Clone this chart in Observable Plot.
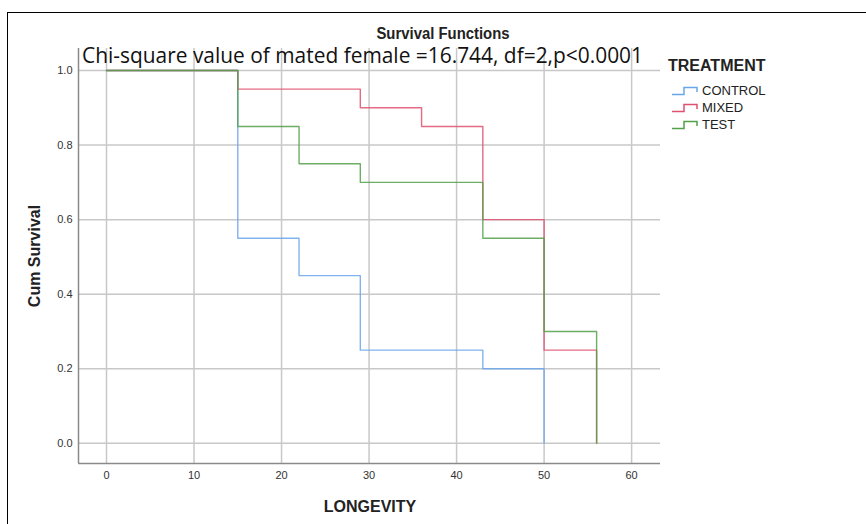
<!DOCTYPE html>
<html>
<head>
<meta charset="utf-8">
<script src="https://cdn.jsdelivr.net/npm/d3@7"></script>
<script src="https://cdn.jsdelivr.net/npm/@observablehq/plot@0.6"></script>
<style>
  body { margin: 0; background: #fff; }
  #wrap { position: relative; width: 866px; height: 524px; overflow: hidden; font-family: "Liberation Sans", Arial, sans-serif; }
  #wrap svg.plot { position: absolute; left: 0; top: 0; }
  .abs { position: absolute; white-space: nowrap; line-height: 1; }
  #frame { position: absolute; left: 7px; top: 12px; width: 900px; height: 600px; border-left: 1.5px solid #000; border-top: 1.5px solid #000; }
  .leg { position: absolute; left: 672px; font-size: 13px; line-height: 1; color: #222; display: flex; align-items: center; }
  .leg svg { margin-right: 4px; }
</style>
</head>
<body>
<div id="wrap">
  <div id="frame"></div>
</div>
<script>
// ---- data ----
const groups = ["CONTROL", "MIXED", "TEST"];
const colors = ["#6aa6ea", "#e0506f", "#52a048"];
const controlTime = [0, 15, 22, 29, 43, 50];
const controlSurv = [1.0, 0.55, 0.45, 0.25, 0.20, 0.0];
const mixedTime = [0, 15, 29, 36, 43, 50, 56];
const mixedSurv = [1.0, 0.95, 0.90, 0.85, 0.60, 0.25, 0.0];
const testTime = [0, 15, 22, 29, 43, 50, 56];
const testSurv = [1.0, 0.85, 0.75, 0.70, 0.55, 0.30, 0.0];
const xTicks = [0, 10, 20, 30, 40, 50, 60];
const yTicks = [0.0, 0.2, 0.4, 0.6, 0.8, 1.0];
const xDomain = [-3.2, 63.3];
const yDomain = [-0.054, 1.059];

const title = "Survival Functions";
const subtitle = "Chi-square value of mated female =16.744, df=2,p<0.0001";
const xLabel = "LONGEVITY";
const yLabel = "Cum Survival";
const legendTitle = "TREATMENT";

const series = [
  {name: "CONTROL", t: controlTime, s: controlSurv},
  {name: "MIXED", t: mixedTime, s: mixedSurv},
  {name: "TEST", t: testTime, s: testSurv}
];
const rows = series.flatMap(g => g.t.map((t, i) => ({group: g.name, time: t, surv: g.s[i]})));

const plot = Plot.plot({
  width: 866,
  height: 524,
  marginLeft: 78,
  marginRight: 206,
  marginTop: 48,
  marginBottom: 61,
  style: {fontFamily: "Liberation Sans, Arial, sans-serif", fontSize: "11px", color: "#333", background: "transparent"},
  x: {domain: xDomain, label: null},
  y: {domain: yDomain, label: null},
  color: {domain: groups, range: colors},
  marks: [
    Plot.gridX(xTicks, {stroke: "#c8c8c8", strokeOpacity: 1, strokeWidth: 1.5}),
    Plot.gridY(yTicks, {stroke: "#c8c8c8", strokeOpacity: 1, strokeWidth: 1.5}),
    Plot.ruleX([xDomain[0]], {stroke: "#8a8a8a", strokeWidth: 1.5}),
    Plot.ruleY([yDomain[0]], {stroke: "#8a8a8a", strokeWidth: 1.5}),
    Plot.axisX(xTicks, {tickSize: 0, tickPadding: 8, tickFormat: d3.format("d"), label: null, fill: "#333", fontSize: 11}),
    Plot.axisY(yTicks, {tickSize: 0, tickPadding: 6, tickFormat: d3.format(".1f"), label: null, fill: "#333", fontSize: 11}),
    Plot.line(rows, {x: "time", y: "surv", z: "group", stroke: "group", curve: "step-after", strokeWidth: 1.4, strokeOpacity: 0.85})
  ]
});
plot.classList.add("plot");
const wrap = document.getElementById("wrap");
wrap.insertBefore(plot, wrap.firstChild);

function addText(txt, css) {
  const d = document.createElement("div");
  d.className = "abs";
  d.textContent = txt;
  Object.assign(d.style, css);
  wrap.appendChild(d);
  return d;
}
// title
addText(title, {left: "443px", top: "26px", fontSize: "16px", fontWeight: "bold", color: "#222", transform: "translateX(-50%) scaleX(0.93)"});
// subtitle
const t2 = addText(subtitle, {left: "82px", top: "45px", fontSize: "21px", fontFamily: "'Open Sans', sans-serif", color: "#111", transformOrigin: "0 0"});
const w2 = t2.getBoundingClientRect().width;
t2.style.transform = `scaleX(${561 / w2})`;
// axis labels
addText(xLabel, {left: "370px", top: "499px", fontSize: "16px", fontWeight: "bold", color: "#222", transform: "translateX(-50%)"});
addText(yLabel, {left: "35px", top: "256px", fontSize: "16px", fontWeight: "bold", color: "#222", transform: "translate(-50%,-50%) rotate(-90deg)"});
// legend
addText(legendTitle, {left: "668px", top: "58px", fontSize: "16px", fontWeight: "bold", color: "#222"});
groups.forEach((g, i) => {
  const d = document.createElement("div");
  d.className = "leg";
  d.style.top = (84 + i * 17) + "px";
  d.innerHTML = `<svg width="26" height="10"><path d="M0,8.5H12V1.5H25V6" fill="none" stroke="${colors[i]}" stroke-width="1.5"/></svg><span>${g}</span>`;
  wrap.appendChild(d);
});
</script>
</body>
</html>
